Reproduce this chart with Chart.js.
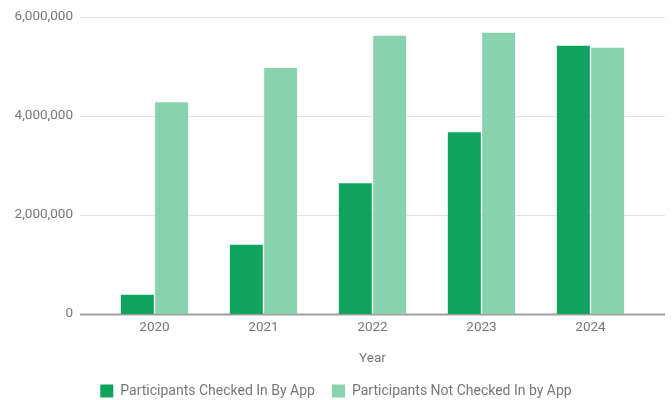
<!DOCTYPE html>
<html>
<head>
<meta charset="utf-8">
<script src="https://cdn.jsdelivr.net/npm/chart.js@4/dist/chart.umd.min.js"></script>
<style>
  body { margin: 0; background: #fff; }
</style>
</head>
<body>
<canvas id="chart" width="672" height="400"></canvas>
<script>
const years = ['2020', '2021', '2022', '2023', '2024'];
const checkedInByApp = [390000, 1400000, 2640000, 3670000, 5420000];
const notCheckedInByApp = [4280000, 4970000, 5620000, 5680000, 5380000];

// gridlines stretch past the bars like the original
const wideGrid = {
    id: 'wideGrid',
    beforeDatasetsDraw(chart) {
        const ctx = chart.ctx;
        const y = chart.scales.y;
        ctx.save();
        y.ticks.forEach(t => {
            const py = Math.round(y.getPixelForValue(t.value)) + 0.5;
            ctx.beginPath();
            ctx.strokeStyle = t.value === 0 ? '#9e9e9e' : '#e4e4e4';
            ctx.lineWidth = t.value === 0 ? 2 : 1;
            ctx.moveTo(80, py);
            ctx.lineTo(665, py);
            ctx.stroke();
        });
        ctx.restore();
    }
};

Chart.defaults.font.family = 'Roboto';
Chart.defaults.font.size = 13.5;
Chart.defaults.color = '#777';

new Chart(document.getElementById('chart'), {
    type: 'bar',
    data: {
        labels: years,
        datasets: [
            {
                label: 'Participants Checked In By App',
                data: checkedInByApp,
                backgroundColor: '#0fa35e'
            },
            {
                label: 'Participants Not Checked In by App',
                data: notCheckedInByApp,
                backgroundColor: '#88d3ad'
            }
        ]
    },
    options: {
        responsive: false,
        animation: false,
        categoryPercentage: 0.63,
        barPercentage: 0.96,
        layout: { padding: { top: 0, right: 0, bottom: -8 } },
        plugins: {
            tooltip: { enabled: false },
            legend: {
                position: 'bottom',
                labels: { boxWidth: 13, boxHeight: 13, padding: 17, color: '#777', font: { size: 14 } }
            }
        },
        scales: {
            x: {
                afterFit(scale) { scale.height = 53; },
                grid: { display: false, drawTicks: false },
                border: { display: false },
                ticks: { padding: 6 },
                title: { display: true, text: 'Year', padding: { top: 14, bottom: 0 } }
            },
            y: {
                min: 0,
                max: 6000000,
                afterFit(scale) {
                    scale.width = 100;
                    scale.paddingTop = 17;
                    scale.paddingBottom = 0;
                },
                grid: { display: false, drawTicks: false },
                border: { display: false },
                ticks: {
                    stepSize: 2000000,
                    padding: 27,
                    callback: v => v.toLocaleString('en-US')
                }
            },
            // empty spacer on the right so the legend stays centred on the page
            spacer: {
                position: 'right',
                afterFit(scale) { scale.width = 27; },
                grid: { display: false },
                border: { display: false },
                ticks: { display: false }
            }
        }
    },
    plugins: [wideGrid]
});
</script>
</body>
</html>
